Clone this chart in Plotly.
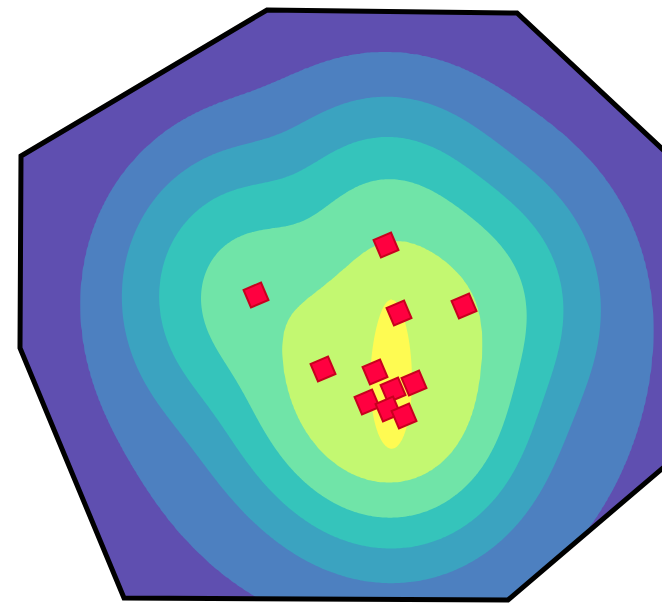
import numpy as np
import plotly.graph_objects as go

# Sample locations (screen-style units, y grows downward)
px = [386, 256, 399, 464, 323, 375, 414, 393, 367, 388, 404]
py = [245, 295, 313, 306, 369, 372, 383, 390, 402, 409, 416]

# Outline of the study area
hull_x = [267, 517, 705, 705, 508, 124, 20, 21]
hull_y = [10, 13, 189, 432, 600, 598, 348, 156]

# Log-density thresholds separating the bands (outer -> inner)
density_levels = [-5.132, -3.395, -1.805, -0.540, 0.579]
core_level = 1.354

band_colors = ["#5F4FB0", "#4D80C0", "#3BA3C0", "#35C4BB", "#70E4A8", "#C3F871"]
core_color = "#FEFB52"

# Kernel settings: anisotropic local kernel blended with a wide one
local_bw = (50, 55)
wide_bw = 140
wide_share = 0.003
core_bw = (20, 80)


def log_density(X, Y, bw, wide=None, share=0.0):
    hx, hy = bw
    local = np.zeros_like(X)
    broad = np.zeros_like(X)
    for a, b in zip(px, py):
        local += np.exp(-((X - a) ** 2 / (2 * hx * hx) + (Y - b) ** 2 / (2 * hy * hy)))
        if wide:
            broad += np.exp(-((X - a) ** 2 + (Y - b) ** 2) / (2 * wide * wide))
    return np.log((1 - share) * local + share * broad + 1e-300)


gx = np.arange(0, 664, 2.0)
gy = np.arange(0, 605, 2.0)
GX, GY = np.meshgrid(gx, gy)

F = log_density(GX, GY, local_bw, wide_bw, wide_share)
# Map log-density onto band indices so every threshold falls on an integer
knots = [F.min() - 1] + density_levels + [F.max() + 1]
Z = np.interp(F, knots, np.arange(len(knots)))

n = len(band_colors) - 1
scale = []
for k, c in enumerate(band_colors):
    lo = 0 if k == 0 else (k - 0.25) / n
    hi = 1 if k == n else (k + 0.75) / n
    scale += [[lo, c], [hi, c]]

FC = log_density(GX, GY, core_bw)

fig = go.Figure()
fig.add_trace(go.Contour(
    x=gx, y=gy, z=Z, colorscale=scale, showscale=False,
    contours=dict(start=1, end=n, size=1, coloring="fill"),
    line=dict(width=0), hoverinfo="skip"))
fig.add_trace(go.Contour(
    x=gx, y=gy, z=FC, showscale=False,
    colorscale=[[0, "rgba(0,0,0,0)"], [0.75, "rgba(0,0,0,0)"],
                [0.75, core_color], [1, core_color]],
    contours=dict(start=core_level, end=core_level, size=1, coloring="fill"),
    line=dict(width=0), hoverinfo="skip"))
fig.add_trace(go.Scatter(
    x=px, y=py, mode="markers", hoverinfo="skip",
    marker=dict(symbol="square", size=19, angle=-23, color="#FF0040",
                line=dict(color="#C8001E", width=2))))

# White mask outside the outline, then the outline itself
outer = "M-200,-200 L900,-200 L900,900 L-200,900 Z "
poly = "M" + " L".join(f"{x},{y}" for x, y in zip(hull_x, hull_y)) + " Z"
fig.add_shape(type="path", path=outer + poly, fillrule="evenodd", fillcolor="white",
              line=dict(width=0), xref="x", yref="y")
fig.add_shape(type="path", path=poly, line=dict(color="black", width=5),
              xref="x", yref="y")

fig.update_layout(
    width=662, height=603, margin=dict(l=0, r=0, t=0, b=0),
    paper_bgcolor="white", plot_bgcolor="white", showlegend=False,
    xaxis=dict(range=[0, 662], visible=False),
    yaxis=dict(range=[603, 0], visible=False))
fig.write_html("out.html")
